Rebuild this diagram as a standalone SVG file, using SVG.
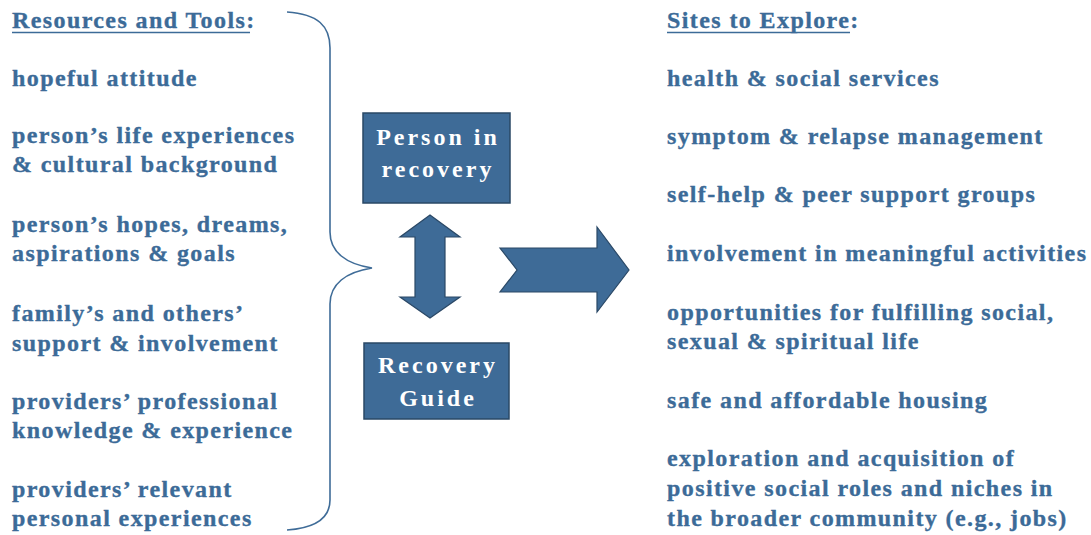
<svg xmlns="http://www.w3.org/2000/svg" width="1091" height="535" viewBox="0 0 1091 535">
<style>
.t{font-family:"Liberation Serif","Times New Roman",serif;font-weight:bold;font-size:24px;letter-spacing:1.4px;fill:#3C6B98;stroke:#3C6B98;stroke-width:0.35}
.bx{fill:#3E6B97;stroke:#2A4866;stroke-width:1.5}
.bt{font-family:"Liberation Serif","Times New Roman",serif;font-weight:bold;font-size:24px;letter-spacing:3px;fill:#FFFFFF;text-anchor:middle}
.ul{stroke:#3C6B98;stroke-width:1.6}
.sh{fill:#3E6B97;stroke:#2A4866;stroke-width:1.2;stroke-linejoin:miter}
.br{fill:none;stroke:#3F6C98;stroke-width:1.6}
</style>
<rect width="1091" height="535" fill="#FFFFFF"/>
<g id="resources">
<text class="t" x="12" y="28">Resources and Tools:</text>
<line class="ul" x1="12" y1="32.5" x2="250" y2="32.5"/>
<text class="t" x="12" y="86">hopeful attitude</text>
<text class="t" x="12" y="143">person’s life experiences</text>
<text class="t" x="12" y="172">&amp; cultural background</text>
<text class="t" x="12" y="232">person’s hopes, dreams,</text>
<text class="t" x="12" y="261">aspirations &amp; goals</text>
<text class="t" x="12" y="321">family’s and others’</text>
<text class="t" x="12" y="351">support &amp; involvement</text>
<text class="t" x="12" y="409">providers’ professional</text>
<text class="t" x="12" y="438">knowledge &amp; experience</text>
<text class="t" x="12" y="497">providers’ relevant</text>
<text class="t" x="12" y="526">personal experiences</text>
</g>
<g id="brace">
<path class="br" d="M287,12 C318,14 330,26 330,48 L330,232 C330,252 346,264 372,268 C346,272 330,284 330,304 L330,500 C330,518 316,528 287,530"/>
</g>
<g id="person">
<rect class="bx" x="363" y="113" width="147" height="90"/>
<text class="bt" x="438" y="145">Person in</text>
<text class="bt" x="438" y="177">recovery</text>
</g>
<g id="guide">
<rect class="bx" x="364" y="343" width="145" height="76"/>
<text class="bt" x="438" y="373">Recovery</text>
<text class="bt" x="438" y="406">Guide</text>
</g>
<g id="connectors">
<path class="sh" d="M430,215 L460,237 L445,237 L445,297 L460,297 L430,318 L400,297 L415,297 L415,237 L400,237 Z"/>
<path class="sh" d="M500,248 L597,248 L597,227 L629,270 L597,312 L597,292 L500,292 L517,270 Z"/>
</g>
<g id="sites">
<text class="t" x="667" y="28">Sites to Explore:</text>
<line class="ul" x1="667" y1="32.5" x2="850" y2="32.5"/>
<text class="t" x="667" y="86">health &amp; social services</text>
<text class="t" x="667" y="144">symptom &amp; relapse management</text>
<text class="t" x="667" y="202">self-help &amp; peer support groups</text>
<text class="t" x="667" y="261">involvement in meaningful activities</text>
<text class="t" x="667" y="320">opportunities for fulfilling social,</text>
<text class="t" x="667" y="349">sexual &amp; spiritual life</text>
<text class="t" x="667" y="408">safe and affordable housing</text>
<text class="t" x="667" y="466">exploration and acquisition of</text>
<text class="t" x="667" y="496">positive social roles and niches in</text>
<text class="t" x="667" y="526">the broader community (e.g., jobs)</text>
</g>
</svg>
